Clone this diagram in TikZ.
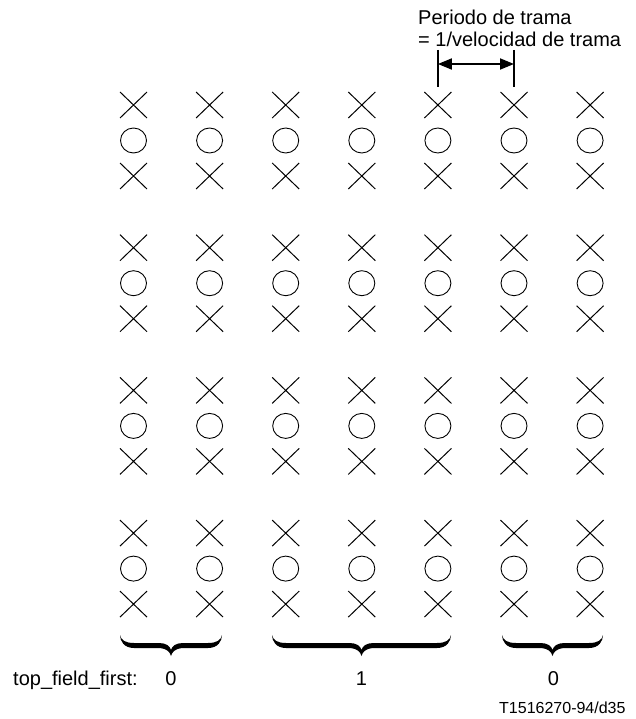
\documentclass[tikz,border=0pt]{standalone}
\usepackage{fontspec}
\setmainfont{Liberation Sans}
\usetikzlibrary{shapes.misc,shapes.geometric,arrows.meta,calc}
\newcommand\dnbrace[3]{%
  \pgfmathsetmacro\bc{(#1+#2)/2}%
  \fill (#1,#3) .. controls (#1,#3+6) and (#1+4,#3+13) .. (#1+14,#3+13)
    -- (\bc-12,#3+13) .. controls (\bc-4,#3+13.5) and (\bc-1,#3+17) .. (\bc,#3+21)
    .. controls (\bc+1,#3+17) and (\bc+4,#3+13.5) .. (\bc+12,#3+13)
    -- (#2-14,#3+13) .. controls (#2-4,#3+13) and (#2,#3+6) .. (#2,#3)
    .. controls (#2-1,#3+5) and (#2-5,#3+8) .. (#2-14,#3+8)
    -- (\bc+12,#3+8) .. controls (\bc+5,#3+8) and (\bc+1,#3+11) .. (\bc,#3+15)
    .. controls (\bc-1,#3+11) and (\bc-5,#3+8) .. (\bc-12,#3+8)
    -- (#1+14,#3+8) .. controls (#1+5,#3+8) and (#1+1,#3+5) .. (#1,#3) -- cycle;}
\begin{document}
\begin{tikzpicture}[x=1pt,y=-1pt,
  xm/.style={cross out,draw,line width=1pt,minimum width=26pt,minimum height=25pt,inner sep=0pt},
  om/.style={ellipse,draw,line width=0.9pt,minimum width=26pt,minimum height=25pt,inner sep=0pt},
  lbl/.style={font=\fontsize{20}{24}\selectfont,inner sep=0pt},
  code/.style={font=\fontsize{16}{19}\selectfont,inner sep=0pt},
  tick/.style={line width=1.8pt},
  per/.style={line width=1.8pt,{Triangle[length=14pt,width=11pt]}-{Triangle[length=14pt,width=11pt]}}]
\useasboundingbox (0,0) rectangle (636,719);
\foreach \g in {0,...,3}{
  \foreach \c in {0,...,6}{
    \pgfmathsetmacro\xx{133.5+76.1*\c}
    \pgfmathsetmacro\yy{105+142.7*\g}
    \node[xm] (xa\g\c) at (\xx,\yy) {};
    \node[om] (o\g\c) at (\xx,\yy+35.5) {};
    \node[xm] (xb\g\c) at (\xx,\yy+71) {};
  }
}
% frame period marker
\coordinate (t1a) at (437.9,50);
\coordinate (t1b) at (437.9,87);
\coordinate (t2a) at (514,50);
\coordinate (t2b) at (514,87);
\draw[tick] (t1a) -- (t1b);
\draw[tick] (t2a) -- (t2b);
\coordinate (p1) at (437.9,64);
\coordinate (p2) at (514,64);
\draw[per] (p1) -- (p2);
\node[lbl,anchor=base west] (per1) at (418,25) {Periodo de trama};
\node[lbl,anchor=base west] (per2) at (418,47) {= 1/velocidad de trama};
% braces
\dnbrace{120}{222}{635}
\dnbrace{272}{451}{635}
\dnbrace{502}{603}{635}
\node[lbl,anchor=base west] (tff) at (13,685) {top\_field\_first:};
\node[lbl,anchor=base] (v1) at (171,685) {0};
\node[lbl,anchor=base] (v2) at (361.5,685) {1};
\node[lbl,anchor=base] (v3) at (553.5,685) {0};
\node[code,anchor=base west] (id) at (499,713) {T1516270-94/d35};
\end{tikzpicture}
\end{document}
